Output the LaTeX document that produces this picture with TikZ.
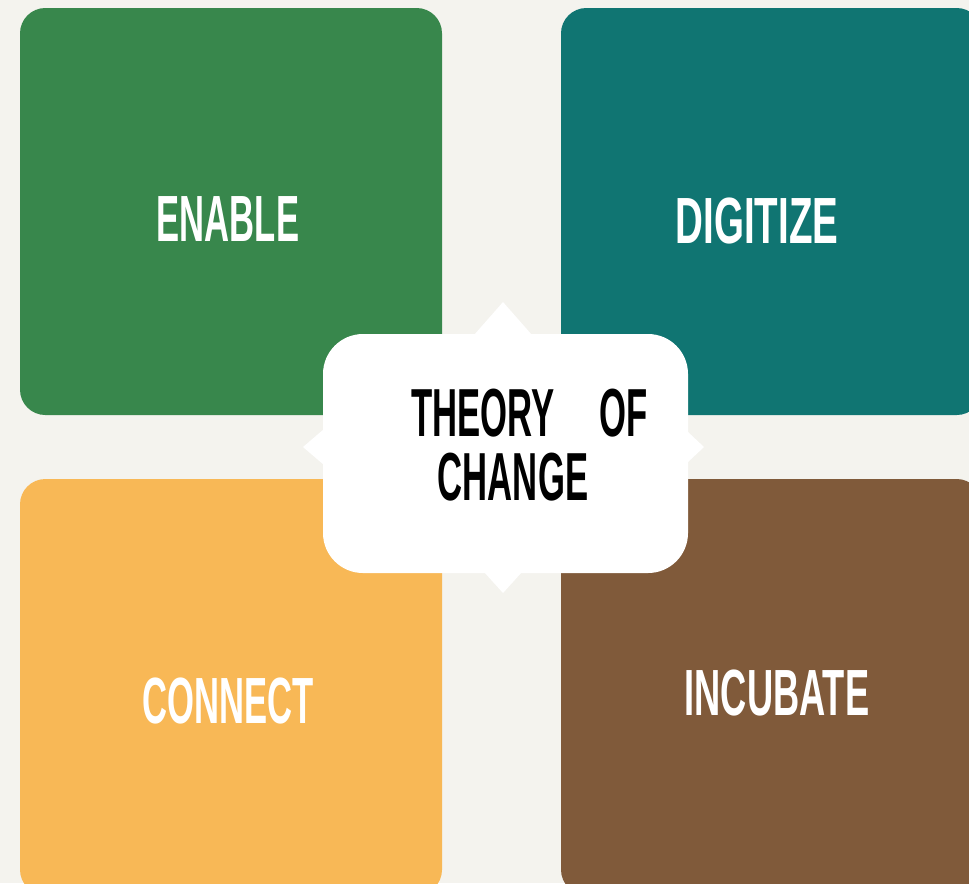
\documentclass[tikz,border=0pt]{standalone}
\usepackage{fontspec}
\setmainfont{Liberation Sans}
\usepackage{tikz}

\definecolor{pagebg}{HTML}{F4F3EE}
\definecolor{enablegreen}{HTML}{38874C}
\definecolor{digitizeteal}{HTML}{107572}
\definecolor{connectorange}{HTML}{F8B856}
\definecolor{incubatebrown}{HTML}{805A3A}

\newcommand{\tilelabel}[2][0.53]{\scalebox{#1}[1]{\fontsize{49}{49}\selectfont\bfseries #2}}
\newcommand{\centerlabel}[1]{\scalebox{0.51}[1]{\fontsize{51}{51}\selectfont\bfseries #1}}

\begin{document}
\begin{tikzpicture}[x=0.75pt,y=0.75pt,yscale=-1,xscale=1]
\useasboundingbox (0,0) rectangle (969,883);
\fill[pagebg] (0,0) rectangle (969,883);

%Tiles
\fill[enablegreen, rounded corners=19pt] (20,8) rectangle (442,415);
\fill[digitizeteal, rounded corners=19pt] (561,8) rectangle (982,415);
\fill[connectorange, rounded corners=19pt] (20,479) rectangle (442,895);
\fill[incubatebrown, rounded corners=19pt] (561,479) rectangle (982,895);

%Center badge
\fill[white, rounded corners=30pt] (323,334) rectangle (688,573);
\fill[white] (474,335) -- (503,302) -- (532,335) -- cycle;
\fill[white] (484,572) -- (503,593) -- (522,572) -- cycle;
\fill[white] (324,429) -- (303,447) -- (324,465) -- cycle;
\fill[white] (687,431) -- (704,447) -- (687,463) -- cycle;

% Text Node
\node (enable) at (228,219) [text=white, inner sep=0pt] {\tilelabel{ENABLE}};
% Text Node
\node (digitize) at (757,221) [text=white, inner sep=0pt] {\tilelabel[0.59]{DIGITIZE}};
% Text Node
\node (connect) at (228,701) [text=white, inner sep=0pt] {\tilelabel{CONNECT}};
% Text Node
\node (incubate) at (777,693) [text=white, inner sep=0pt] {\tilelabel[0.555]{INCUBATE}};
% Text Node
\node (theory) at (483,413) [text=black, inner sep=0pt] {\centerlabel{THEORY}};
% Text Node
\node (of) at (624,413) [text=black, inner sep=0pt] {\centerlabel{OF}};
% Text Node
\node (change) at (513,477) [text=black, inner sep=0pt] {\centerlabel{CHANGE}};

\end{tikzpicture}
\end{document}
